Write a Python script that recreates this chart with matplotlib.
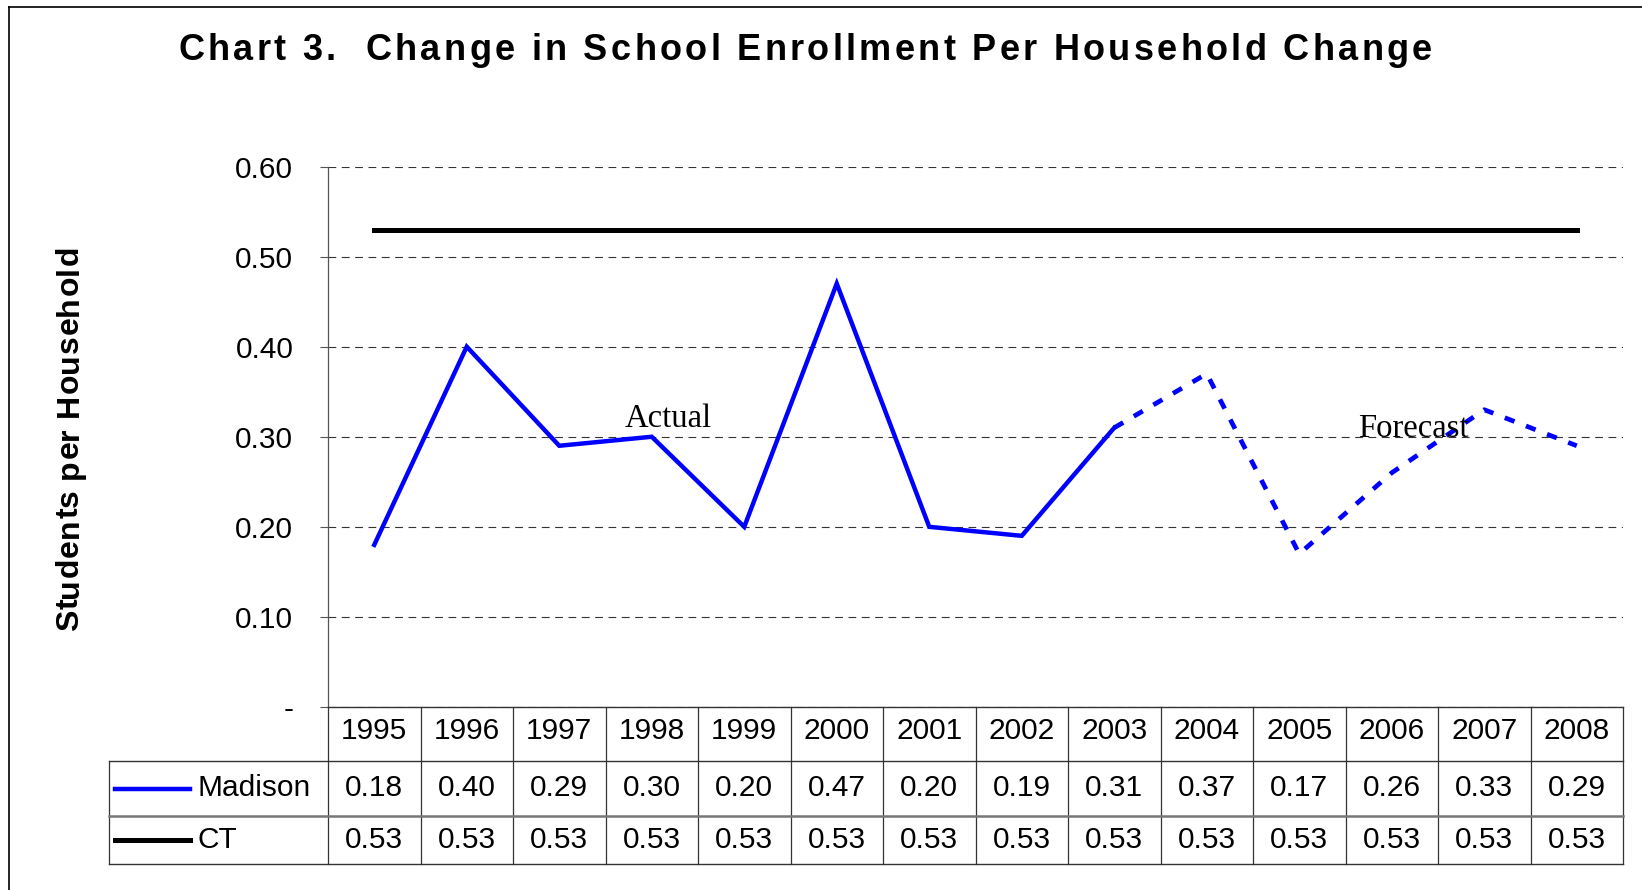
import matplotlib
matplotlib.use('Agg')
import matplotlib.pyplot as plt
from matplotlib.lines import Line2D
from matplotlib.font_manager import FontProperties

years = ['1995', '1996', '1997', '1998', '1999', '2000', '2001',
         '2002', '2003', '2004', '2005', '2006', '2007', '2008']
madison = [0.18, 0.40, 0.29, 0.30, 0.20, 0.47, 0.20,
           0.19, 0.31, 0.37, 0.17, 0.26, 0.33, 0.29]
ct = [0.53] * 14
forecast_from = 8  # 2003 onwards is forecast
yticks = [0, 0.1, 0.2, 0.3, 0.4, 0.5, 0.6]
ytick_labels = ['-', '0.10', '0.20', '0.30', '0.40', '0.50', '0.60']
title = 'Chart 3.  Change in School Enrollment Per Household Change'
ylabel = 'Students per Household'

W, H = 1642, 890
plt.rcParams['font.family'] = ['Liberation Sans', 'DejaVu Sans']

fig = plt.figure(figsize=(W / 100, H / 100), dpi=100)
renderer = fig.canvas.get_renderer()


def tracked_text(x_px, y_px, s, length_px, size, vertical=False):
    # letter-spaced bold text, laid out char by char to fill length_px
    prop = FontProperties(family='Liberation Sans', weight='bold', size=size)

    def width(t):
        return renderer.get_text_width_height_descent(t, prop, ismath=False)[0]

    base = width('xx')
    adv = [width('x' + c + 'x') - base for c in s]
    track = (length_px - sum(adv)) / (len(s) - 1)
    pos = 0
    for c, a in zip(s, adv):
        if vertical:
            fig.text(x_px / W, 1 - (y_px - pos) / H, c, fontproperties=prop,
                     rotation=90, rotation_mode='anchor', ha='left', va='baseline')
        else:
            fig.text((x_px + pos) / W, 1 - y_px / H, c, fontproperties=prop,
                     ha='left', va='baseline')
        pos += a + track


# plot area in pixels
L, R, T, B = 328, 1623, 166.5, 707
ax = fig.add_axes([L / W, 1 - B / H, (R - L) / W, (B - T) / H])

x = list(range(len(years)))
ax.plot(x[:forecast_from + 1], madison[:forecast_from + 1], color='#0000ff', lw=3.2,
        solid_joinstyle='miter', zorder=3)
ax.plot(x[forecast_from:], madison[forecast_from:], color='#0000ff', lw=3.4,
        linestyle=(0, (2.2, 2.6)), zorder=3)
ax.plot(x, ct, color='black', lw=3.6, zorder=3)

ax.set_xlim(-0.5, len(years) - 0.5)
ax.set_ylim(0, 0.6)
ax.set_yticks(yticks)
ax.set_yticklabels(ytick_labels, fontsize=21.5)
ax.set_xticks([])
ax.tick_params(axis='y', direction='out', length=6, width=0.8, color='#555555', pad=19)
ax.yaxis.grid(True, color='#333333', lw=0.8, linestyle=(0, (7, 5)))
ax.set_axisbelow(True)
for s in ['top', 'right']:
    ax.spines[s].set_visible(False)
ax.spines['left'].set_color('#555555')
ax.spines['left'].set_linewidth(0.9)
ax.spines['bottom'].set_color('#333333')
ax.spines['bottom'].set_linewidth(1.0)

ax.text(3.18, 0.32, 'Actual', family='Liberation Serif', fontsize=23.5,
        ha='center', va='center')
ax.text(11.23, 0.309, 'Forecast', family='Liberation Serif', fontsize=23.5,
        ha='center', va='center')


# data table below the plot, in axes fractions
def ay(py):
    return (B - py) / (B - T)


def axx(px):
    return (px - L) / (R - L)


tr = ax.transAxes
n = len(years)
y_head, y_mad, y_ct = ay(761), ay(816), ay(864)
for i in range(n + 1):
    ax.add_line(Line2D([i / n, i / n], [0, y_ct], transform=tr, color='#333333',
                       lw=0.9, clip_on=False))
ax.add_line(Line2D([axx(109), axx(109)], [y_head, y_ct], transform=tr,
                   color='#333333', lw=0.9, clip_on=False))
ax.add_line(Line2D([axx(109), 1], [y_head, y_head], transform=tr, color='#333333',
                   lw=1.0, clip_on=False))
ax.add_line(Line2D([axx(109), 1], [y_mad, y_mad], transform=tr, color='#777777',
                   lw=1.8, clip_on=False))
ax.add_line(Line2D([axx(109), 1], [y_ct, y_ct], transform=tr, color='#333333',
                   lw=1.0, clip_on=False))

yc_head, yc_mad, yc_ct = ay(731), ay(788.5), ay(840)
for i in range(n):
    cx = (i + 0.5) / n
    ax.text(cx, yc_head, years[i], transform=tr, ha='center', va='center', fontsize=21.5)
    ax.text(cx, yc_mad, '%.2f' % madison[i], transform=tr, ha='center', va='center',
            fontsize=21.5)
    ax.text(cx, yc_ct, '%.2f' % ct[i], transform=tr, ha='center', va='center',
            fontsize=21.5)

ax.add_line(Line2D([axx(115), axx(190)], [yc_mad, yc_mad], transform=tr,
                   color='#0000ff', lw=3.2, clip_on=False))
ax.add_line(Line2D([axx(115), axx(190)], [yc_ct, yc_ct], transform=tr,
                   color='black', lw=3.6, clip_on=False))
ax.text(axx(197), yc_mad, 'Madison', transform=tr, ha='left', va='center', fontsize=21.5)
ax.text(axx(197), yc_ct, 'CT', transform=tr, ha='left', va='center', fontsize=21.5)

tracked_text(178, 60, title, 1254, 26)
tracked_text(78, 631, ylabel, 385, 23, vertical=True)

# outer frame (left and top edges visible)
fig.add_artist(Line2D([9 / W, 9 / W], [0, 1 - 7 / H], transform=fig.transFigure,
                      color='black', lw=1.2))
fig.add_artist(Line2D([9 / W, 1], [1 - 7 / H, 1 - 7 / H], transform=fig.transFigure,
                      color='black', lw=1.2))

plt.savefig('out.png', dpi=100)
